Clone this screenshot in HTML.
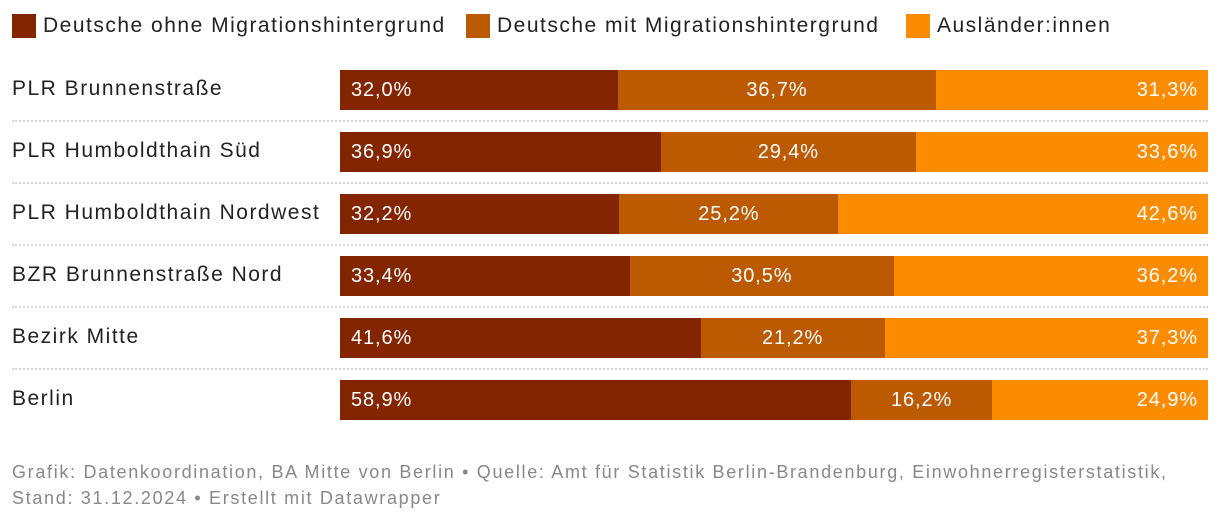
<!DOCTYPE html>
<html><head><meta charset="utf-8"><style>
body{margin:0;width:1220px;height:522px;background:#fff;font-family:"Liberation Sans",sans-serif;overflow:hidden;position:relative}
.leg{position:absolute;top:14px;font-size:21px;letter-spacing:1.5px;color:#222;display:flex;align-items:center;white-space:nowrap}
.sw{width:24px;height:24px;margin-right:7px}
.lab{position:absolute;left:12px;font-size:21px;letter-spacing:1.5px;color:#222;white-space:nowrap}
.sep{position:absolute;left:12px;width:1196px;border-top:2px dotted #d5d5d5}
.bar{position:absolute;height:40px;color:#fff;font-size:20px;letter-spacing:0.9px;line-height:40px;box-sizing:border-box;white-space:nowrap}
.foot{position:absolute;left:12px;top:459px;font-size:18px;letter-spacing:1.68px;color:#888;line-height:26px;white-space:nowrap}
</style></head><body>
<div class="leg" style="left:12px"><div class="sw" style="background:#832600"></div>Deutsche ohne Migrationshintergrund</div>
<div class="leg" style="left:466px"><div class="sw" style="background:#bb5a00"></div>Deutsche mit Migrationshintergrund</div>
<div class="leg" style="left:906px"><div class="sw" style="background:#fb8c00"></div>Ausländer:innen</div>
<div id="chart"></div>
<div class="foot">Grafik: Datenkoordination, BA Mitte von Berlin • Quelle: Amt für Statistik Berlin-Brandenburg, Einwohnerregisterstatistik,<br>Stand: 31.12.2024 • Erstellt mit Datawrapper</div>
<script>
const categories=["PLR Brunnenstraße","PLR Humboldthain Süd","PLR Humboldthain Nordwest","BZR Brunnenstraße Nord","Bezirk Mitte","Berlin"];
const ohne=[32.0,36.9,32.2,33.4,41.6,58.9];
const mit=[36.7,29.4,25.2,30.5,21.2,16.2];
const aus=[31.3,33.6,42.6,36.2,37.3,24.9];
const colors=["#832600","#bb5a00","#fb8c00"];
const X0=340,W=868,Y0=70,P=62;
const c=document.getElementById('chart');
const fmt=v=>v.toFixed(1).replace('.',',')+'%';
categories.forEach((cat,i)=>{
  const y=Y0+i*P;
  const l=document.createElement('div');l.className='lab';l.style.top=(y+7)+'px';l.textContent=cat;
  
  
  c.appendChild(l);
  if(i<categories.length-1){const s=document.createElement('div');s.className='sep';s.style.top=(y+50)+'px';
  
  
  c.appendChild(s);}
  const vals=[ohne[i],mit[i],aus[i]];const tot=vals.reduce((a,b)=>a+b,0);
  let x=X0;
  vals.forEach((v,j)=>{
    const w=v/tot*W;const b=document.createElement('div');b.className='bar';
    b.style.left=x+'px';b.style.top=y+'px';b.style.width=w+'px';b.style.background=colors[j];
    b.style.textAlign=j==0?'left':(j==1?'center':'right');
    b.style.padding=j==0?'0 0 0 11px':(j==2?'0 10px 0 0':'0');
    b.textContent=fmt(v);
    
    
    c.appendChild(b);x+=w;
  });
});
</script>
</body></html>
